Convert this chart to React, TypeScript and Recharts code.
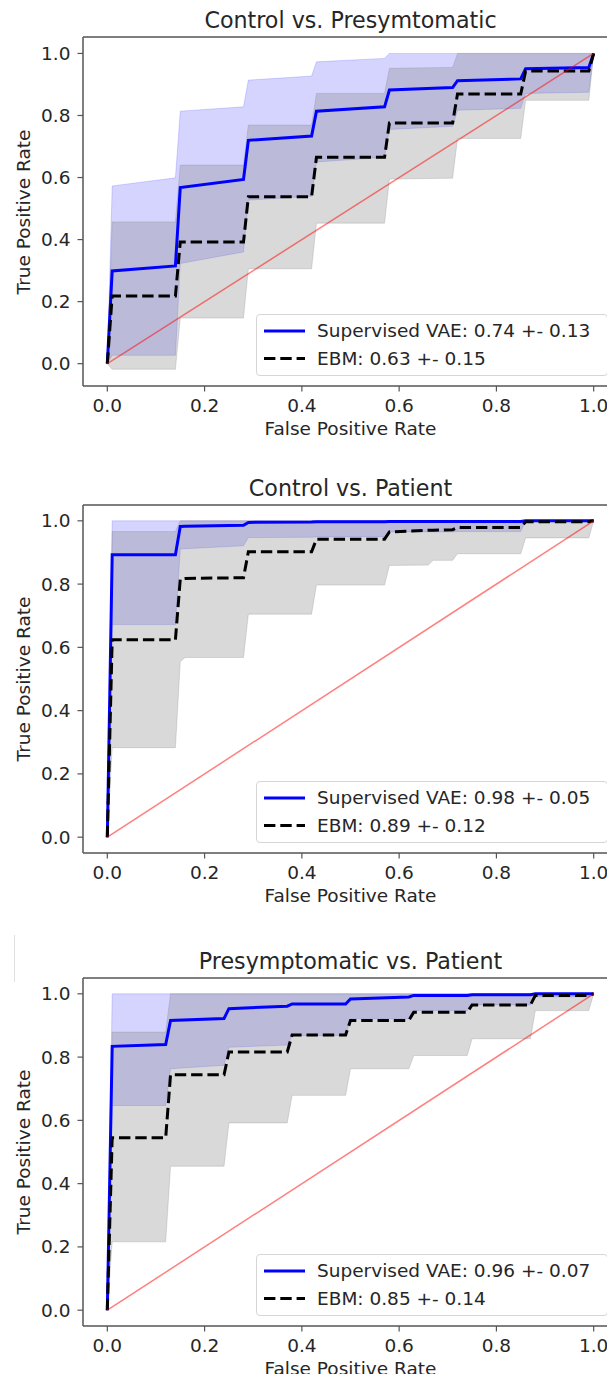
import { ComposedChart, Area, Line, XAxis, YAxis, ReferenceLine } from 'recharts';

// x grid of the mean ROC curves, one per panel
const fpr1 = [0, 0.01, 0.14, 0.15, 0.28, 0.29, 0.42, 0.43, 0.57, 0.58, 0.71, 0.72, 0.85, 0.86, 0.99, 1.0];
const vae1 = [0, 0.299, 0.315, 0.568, 0.594, 0.72, 0.734, 0.814, 0.828, 0.882, 0.89, 0.912, 0.918, 0.951, 0.955, 1.0];
const vaeLo1 = [0, 0.027, 0.027, 0.323, 0.36, 0.527, 0.54, 0.65, 0.665, 0.755, 0.765, 0.817, 0.823, 0.871, 0.875, 1.0];
const vaeHi1 = [0, 0.573, 0.599, 0.814, 0.828, 0.914, 0.927, 0.973, 0.984, 1, 1, 1, 1, 1, 1, 1];
const ebm1 = [0, 0.218, 0.218, 0.392, 0.392, 0.538, 0.538, 0.665, 0.665, 0.776, 0.776, 0.869, 0.869, 0.943, 0.943, 1.0];
const ebmLo1 = [0, -0.018, -0.018, 0.147, 0.147, 0.306, 0.306, 0.453, 0.453, 0.595, 0.598, 0.726, 0.726, 0.849, 0.849, 1.0];
const ebmHi1 = [0, 0.457, 0.457, 0.64, 0.64, 0.769, 0.769, 0.871, 0.871, 0.952, 0.955, 1, 1, 1, 1, 1];

const fpr2 = [0, 0.01, 0.14, 0.15, 0.16, 0.28, 0.29, 0.42, 0.43, 0.57, 0.58, 0.66, 0.67, 0.71, 0.72, 0.85, 0.86, 0.99, 1.0];
const vae2 = [0, 0.893, 0.893, 0.982, 0.983, 0.986, 0.995, 0.996, 0.997, 0.997, 0.998, 0.998, 0.998, 0.998, 0.998, 0.998, 1, 1, 1];
const vaeLo2 = [0, 0.672, 0.672, 0.911, 0.912, 0.921, 0.947, 0.948, 0.949, 0.95, 0.965, 0.965, 0.965, 0.965, 0.966, 0.966, 1, 1, 1];
const vaeHi2 = [0, 1, 1, 1, 1, 1, 1, 1, 1, 1, 1, 1, 1, 1, 1, 1, 1, 1, 1];
const ebm2 = [0, 0.624, 0.624, 0.816, 0.818, 0.82, 0.902, 0.902, 0.942, 0.942, 0.965, 0.97, 0.97, 0.972, 0.979, 0.979, 0.997, 0.997, 1];
const ebmLo2 = [0, 0.283, 0.283, 0.555, 0.568, 0.568, 0.705, 0.705, 0.797, 0.797, 0.859, 0.86, 0.875, 0.875, 0.896, 0.896, 0.946, 0.946, 1];
const ebmHi2 = [0, 0.966, 0.966, 1, 1, 1, 1, 1, 1, 1, 1, 1, 1, 1, 1, 1, 1, 1, 1];

const fpr3 = [0, 0.01, 0.12, 0.13, 0.24, 0.25, 0.37, 0.38, 0.49, 0.5, 0.62, 0.63, 0.74, 0.75, 0.87, 0.88, 0.99, 1.0];
const vae3 = [0, 0.834, 0.84, 0.916, 0.922, 0.953, 0.961, 0.968, 0.968, 0.984, 0.99, 0.995, 0.995, 0.997, 0.997, 1, 1, 1];
const vaeLo3 = [0, 0.647, 0.647, 0.763, 0.774, 0.831, 0.838, 0.868, 0.868, 0.921, 0.921, 0.947, 0.947, 0.965, 0.965, 0.99, 0.99, 1];
const vaeHi3 = [0, 1, 1, 1, 1, 1, 1, 1, 1, 1, 1, 1, 1, 1, 1, 1, 1, 1];
const ebm3 = [0, 0.545, 0.545, 0.744, 0.744, 0.816, 0.816, 0.87, 0.87, 0.916, 0.916, 0.942, 0.942, 0.965, 0.965, 0.995, 0.995, 1];
const ebmLo3 = [0, 0.216, 0.216, 0.455, 0.455, 0.592, 0.592, 0.679, 0.679, 0.763, 0.763, 0.805, 0.805, 0.858, 0.858, 0.947, 0.947, 1];
const ebmHi3 = [0, 0.879, 0.879, 1, 1, 1, 1, 1, 1, 1, 1, 1, 1, 1, 1, 1, 1, 1];

const titles = ['Control vs. Presymtomatic', 'Control vs. Patient', 'Presymptomatic vs. Patient'];
const vaeLabels = ['Supervised VAE: 0.74 +- 0.13', 'Supervised VAE: 0.98 +- 0.05', 'Supervised VAE: 0.96 +- 0.07'];
const ebmLabels = ['EBM: 0.63 +- 0.15', 'EBM: 0.89 +- 0.12', 'EBM: 0.85 +- 0.14'];
const ticks = [0, 0.2, 0.4, 0.6, 0.8, 1.0];
const chance = [0, 1];

const FONT = '"DejaVu Sans", sans-serif';
const TXT = '#262626';
const AX = '#555';
const DASH = '11.4 4.9';

interface PanelProps {
  top: number;
  mt: number;
  mb: number;
  yDomain: [number, number];
  idx: number;
  fpr: number[];
  vae: number[];
  vaeLo: number[];
  vaeHi: number[];
  ebm: number[];
  ebmLo: number[];
  ebmHi: number[];
}

function Panel(p: PanelProps) {
  const rows = p.fpr.map((x, i) => ({
    x,
    vae: p.vae[i],
    vaeBand: [p.vaeLo[i], p.vaeHi[i]],
    ebm: p.ebm[i],
    ebmBand: [p.ebmLo[i], p.ebmHi[i]],
  }));
  const diag = chance.map((v) => ({ x: v, y: v }));
  const H = 440;
  const plotTop = p.top + p.mt;
  const plotBottom = p.top + H - p.mb - 40;
  const tickStyle = { fontSize: 18.5, fill: TXT, fontFamily: FONT };
  return (
    <>
      <div style={{ position: 'absolute', left: 0, top: p.top, width: 640, height: H }}>
        <ComposedChart width={640} height={H} data={rows} margin={{ top: p.mt, right: 22, bottom: p.mb, left: 0 }}>
          <XAxis dataKey="x" type="number" domain={[-0.05, 1.05]} ticks={ticks} allowDataOverflow
            height={40} tickSize={5.5} tickMargin={7.5} tick={tickStyle}
            tickFormatter={(v: number) => v.toFixed(1)}
            axisLine={{ stroke: AX, strokeWidth: 1.5 }} tickLine={{ stroke: AX, strokeWidth: 1.2 }} />
          <YAxis type="number" domain={p.yDomain} ticks={ticks} allowDataOverflow width={83}
            tickSize={5.5} tickMargin={7} tick={tickStyle}
            tickFormatter={(v: number) => v.toFixed(1)}
            axisLine={{ stroke: AX, strokeWidth: 1.5 }} tickLine={{ stroke: AX, strokeWidth: 1.2 }} />
          <ReferenceLine y={p.yDomain[1]} stroke={AX} strokeWidth={1.5} />
          <Area dataKey="vaeBand" type="linear" fill="blue" fillOpacity={0.17} stroke="blue" strokeOpacity={0.15}
            strokeWidth={1} dot={false} activeDot={false} isAnimationActive={false} />
          <Area dataKey="ebmBand" type="linear" fill="grey" fillOpacity={0.3} stroke="grey" strokeOpacity={0.25}
            strokeWidth={1} dot={false} activeDot={false} isAnimationActive={false} />
          <Line dataKey="vae" type="linear" stroke="#0000ff" strokeWidth={3} dot={false} activeDot={false} isAnimationActive={false} />
          <Line dataKey="ebm" type="linear" stroke="#000" strokeWidth={3} strokeDasharray={DASH} dot={false} activeDot={false} isAnimationActive={false} />
          <Line data={diag} dataKey="y" type="linear" stroke="red" strokeOpacity={0.5} strokeWidth={1.5} dot={false} activeDot={false} isAnimationActive={false} />
        </ComposedChart>
      </div>
      <div style={{ position: 'absolute', left: 83, width: 535, top: plotTop - 16.7 - 13, lineHeight: '26px', textAlign: 'center', fontSize: 22.2, color: TXT }}>
        {titles[p.idx]}
      </div>
      <div style={{ position: 'absolute', left: 83, width: 535, top: plotBottom + 43 - 11, lineHeight: '22px', textAlign: 'center', fontSize: 18.5, color: TXT }}>
        False Positive Rate
      </div>
      <div style={{ position: 'absolute', left: 23.5, top: (plotTop + plotBottom) / 2, transform: 'translate(-50%, -50%) rotate(-90deg)', whiteSpace: 'nowrap', lineHeight: '22px', fontSize: 18.5, color: TXT }}>
        True Positive Rate
      </div>
      <div style={{ position: 'absolute', left: 256, top: plotBottom - 10.5 - 61.5, width: 352, height: 61.5, boxSizing: 'border-box', background: 'rgba(255,255,255,0.8)', border: '1px solid #d6d6d6', borderRadius: 4, fontSize: 18.5, color: TXT }}>
        <svg style={{ position: 'absolute', left: 0, top: 0 }} width={60} height={60}>
          <line x1={7} x2={48} y1={16} y2={16} stroke="#0000ff" strokeWidth={3} />
          <line x1={7} x2={48} y1={43.5} y2={43.5} stroke="#000" strokeWidth={3} strokeDasharray={DASH} />
        </svg>
        <div style={{ position: 'absolute', left: 60, top: 16 - 11, lineHeight: '22px', whiteSpace: 'nowrap' }}>{vaeLabels[p.idx]}</div>
        <div style={{ position: 'absolute', left: 60, top: 43.5 - 11, lineHeight: '22px', whiteSpace: 'nowrap' }}>{ebmLabels[p.idx]}</div>
      </div>
    </>
  );
}

export default function App() {
  return (
    <div style={{ position: 'relative', width: 615, height: 1382, margin: -8, overflow: 'hidden', background: '#fff', fontFamily: FONT }}>
      <Panel top={0} mt={37} mb={14} yDomain={[-0.072, 1.053]} idx={0}
        fpr={fpr1} vae={vae1} vaeLo={vaeLo1} vaeHi={vaeHi1} ebm={ebm1} ebmLo={ebmLo1} ebmHi={ebmHi1} />
      <Panel top={470} mt={35} mb={17} yDomain={[-0.05, 1.05]} idx={1}
        fpr={fpr2} vae={vae2} vaeLo={vaeLo2} vaeHi={vaeHi2} ebm={ebm2} ebmLo={ebmLo2} ebmHi={ebmHi2} />
      <Panel top={940} mt={38} mb={14} yDomain={[-0.05, 1.05]} idx={2}
        fpr={fpr3} vae={vae3} vaeLo={vaeLo3} vaeHi={vaeHi3} ebm={ebm3} ebmLo={ebmLo3} ebmHi={ebmHi3} />
      <div style={{ position: 'absolute', left: 14, top: 935, width: 1, height: 47, background: '#e0e0e0' }} />
    </div>
  );
}
